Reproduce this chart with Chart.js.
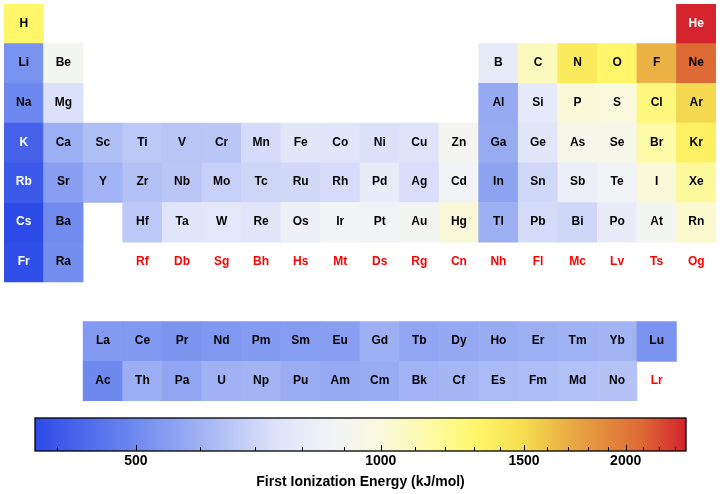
<!DOCTYPE html>
<html><head><meta charset="utf-8">
<script src="https://cdn.jsdelivr.net/npm/chart.js@4/dist/chart.umd.min.js"></script>
<style>
html,body{margin:0;padding:0;background:#fff;}
#wrap{width:720px;height:494px;position:relative;}
canvas{display:block;}
</style></head><body>
<div id="wrap">
<canvas id="table" width="720" height="405"></canvas>
<canvas id="cbar" width="720" height="89"></canvas>
</div>
<script>
const symbols = ['H','He','Li','Be','B','C','N','O','F','Ne','Na','Mg','Al','Si','P','S','Cl','Ar',
 'K','Ca','Sc','Ti','V','Cr','Mn','Fe','Co','Ni','Cu','Zn','Ga','Ge','As','Se','Br','Kr',
 'Rb','Sr','Y','Zr','Nb','Mo','Tc','Ru','Rh','Pd','Ag','Cd','In','Sn','Sb','Te','I','Xe',
 'Cs','Ba','La','Ce','Pr','Nd','Pm','Sm','Eu','Gd','Tb','Dy','Ho','Er','Tm','Yb','Lu',
 'Hf','Ta','W','Re','Os','Ir','Pt','Au','Hg','Tl','Pb','Bi','Po','At','Rn',
 'Fr','Ra','Ac','Th','Pa','U','Np','Pu','Am','Cm','Bk','Cf','Es','Fm','Md','No','Lr',
 'Rf','Db','Sg','Bh','Hs','Mt','Ds','Rg','Cn','Nh','Fl','Mc','Lv','Ts','Og'];
const groups = [1,18, 1,2,13,14,15,16,17,18, 1,2,13,14,15,16,17,18,
 1,2,3,4,5,6,7,8,9,10,11,12,13,14,15,16,17,18,
 1,2,3,4,5,6,7,8,9,10,11,12,13,14,15,16,17,18,
 1,2, 3,4,5,6,7,8,9,10,11,12,13,14,15,16,17,
 4,5,6,7,8,9,10,11,12,13,14,15,16,17,18,
 1,2, 3,4,5,6,7,8,9,10,11,12,13,14,15,16,17,
 4,5,6,7,8,9,10,11,12,13,14,15,16,17,18];
const periods = [1,1, 2,2,2,2,2,2,2,2, 3,3,3,3,3,3,3,3,
 4,4,4,4,4,4,4,4,4,4,4,4,4,4,4,4,4,4,
 5,5,5,5,5,5,5,5,5,5,5,5,5,5,5,5,5,5,
 6,6, 9,9,9,9,9,9,9,9,9,9,9,9,9,9,9,
 6,6,6,6,6,6,6,6,6,6,6,6,6,6,6,
 7,7, 10,10,10,10,10,10,10,10,10,10,10,10,10,10,10,
 7,7,7,7,7,7,7,7,7,7,7,7,7,7,7];
const ionization = [1312.0,2372.3, 520.2,899.5,800.6,1086.5,1402.3,1313.9,1681.0,2080.7,
 495.8,737.7,577.5,786.5,1011.8,999.6,1251.2,1520.6,
 418.8,589.8,633.1,658.8,650.9,652.9,717.3,762.5,760.4,737.1,745.5,906.4,578.8,762.0,947.0,941.0,1139.9,1350.8,
 403.0,549.5,600.0,640.1,652.1,684.3,702.0,710.2,719.7,804.4,731.0,867.8,558.3,708.6,834.0,869.3,1008.4,1170.4,
 375.7,502.9, 538.1,534.4,527.0,533.1,540.0,544.5,547.1,593.4,565.8,573.0,581.0,589.3,596.7,603.4,523.5,
 658.5,761.0,770.0,760.0,840.0,880.0,870.0,890.1,1007.1,589.4,715.6,703.0,812.1,899.0,1037.0,
 380.0,509.3, 499.0,587.0,568.0,597.6,604.5,584.7,578.0,581.0,601.0,608.0,619.0,627.0,635.0,642.0,null,
 null,null,null,null,null,null,null,null,null,null,null,null,null,null,null];
const colorbarTicks = [500,1000,1500,2000];
const colorbarMinorTicks = [400,600,700,800,900,1100,1200,1300,1400,1600,1700,1800,1900,2100,2200,2300];
const colorStops = [
 [0.00,[44,74,232]],[0.18,[122,148,240]],[0.37,[222,227,250]],[0.46,[242,244,246]],
 [0.53,[249,249,222]],[0.60,[252,251,170]],[0.68,[255,246,104]],[0.75,[246,222,80]],
 [0.82,[233,172,68]],[0.93,[222,106,54]],[1.00,[212,35,45]]];

const FONT = '"Liberation Sans", Arial, Helvetica, sans-serif';
const known = ionization.filter(v => v != null);
const eMin = Math.min(...known), eMax = Math.max(...known);
function colorFor(v){
  const t = (Math.log(v)-Math.log(eMin))/(Math.log(eMax)-Math.log(eMin));
  for (let k=1;k<colorStops.length;k++){
    const [t1,c1]=colorStops[k-1],[t2,c2]=colorStops[k];
    if (t<=t2){
      const f=(t-t1)/(t2-t1);
      return 'rgb('+c1.map((c,j)=>Math.round(c+(c2[j]-c)*f)).join(',')+')';
    }
  }
  return 'rgb('+colorStops[colorStops.length-1][1].join(',')+')';
}

const cells=[], cellColors=[];
symbols.forEach((s,i)=>{
  if (ionization[i]!=null){
    cells.push({x:String(groups[i]), y:[periods[i]-0.5, periods[i]+0.5]});
    cellColors.push(colorFor(ionization[i]));
  }
});

const symbolPlugin = {
  id:'symbols',
  afterDatasetsDraw(chart){
    const {ctx, scales:{x,y}} = chart;
    ctx.save();
    ctx.font = 'bold 12px '+FONT;
    ctx.textAlign='center'; ctx.textBaseline='alphabetic';
    symbols.forEach((s,i)=>{
      const v = ionization[i];
      ctx.fillStyle = v==null ? '#ff0000' : ((v<450||v>2200) ? '#ffffff' : '#000000');
      ctx.fillText(s, x.getPixelForValue(groups[i]-1), y.getPixelForValue(periods[i])+2.7);
    });
    ctx.restore();
  }
};

new Chart(document.getElementById('table'), {
  type:'bar',
  data:{ labels: Array.from({length:18},(_,i)=>String(i+1)),
    datasets:[{ data:cells, backgroundColor:cellColors, borderWidth:0,
      barPercentage:1, categoryPercentage:1 }]},
  options:{ responsive:false, animation:false,
    layout:{padding:{left:4,right:4,top:4,bottom:4}},
    plugins:{legend:{display:false}, tooltip:{enabled:false}},
    scales:{ x:{type:'category', display:false, offset:true},
             y:{type:'linear', display:false, min:0.5, max:10.5, reverse:true} } },
  plugins:[symbolPlugin]
});

const colorbarPlugin = {
  id:'colorbar',
  afterDraw(chart){
    const {ctx, chartArea:a, scales:{x}} = chart;
    ctx.save();
    const g = ctx.createLinearGradient(a.left,0,a.right,0);
    colorStops.forEach(([t,c])=>g.addColorStop(t,'rgb('+c.join(',')+')'));
    ctx.fillStyle=g;
    ctx.fillRect(a.left,a.top,a.right-a.left,a.bottom-a.top);
    ctx.strokeStyle='#000'; ctx.lineWidth=1;
    ctx.beginPath();
    colorbarTicks.forEach(v=>{const px=Math.round(x.getPixelForValue(v))+0.5; ctx.moveTo(px,a.bottom); ctx.lineTo(px,a.bottom-6);});
    colorbarMinorTicks.forEach(v=>{const px=Math.round(x.getPixelForValue(v))+0.5; ctx.moveTo(px,a.bottom); ctx.lineTo(px,a.bottom-4);});
    ctx.stroke();
    ctx.lineWidth=1.3;
    ctx.strokeRect(a.left,a.top,a.right-a.left,a.bottom-a.top);
    ctx.restore();
  }
};

new Chart(document.getElementById('cbar'), {
  type:'scatter',
  data:{datasets:[]},
  options:{ responsive:false, animation:false,
    layout:{padding:{left:35,right:34,top:13,bottom:0}},
    plugins:{legend:{display:false}, tooltip:{enabled:false}},
    scales:{
      x:{ type:'logarithmic', min:eMin, max:eMax, position:'bottom',
        grid:{display:false, drawTicks:false}, border:{display:false},
        afterBuildTicks:s=>{ s.ticks = colorbarTicks.map(v=>({value:v})); },
        afterFit:s=>{ s.height = 43; },
        ticks:{ padding:2, color:'#000', autoSkip:false, maxRotation:0,
          font:{family:FONT, size:14, weight:'bold'}, callback:v=>String(v) },
        title:{ display:true, text:'First Ionization Energy (kJ/mol)', color:'#000',
          font:{family:FONT, size:14, weight:'bold'}, padding:{top:0,bottom:3} } },
      y:{ display:false }
    } },
  plugins:[colorbarPlugin]
});
</script>
</body></html>
